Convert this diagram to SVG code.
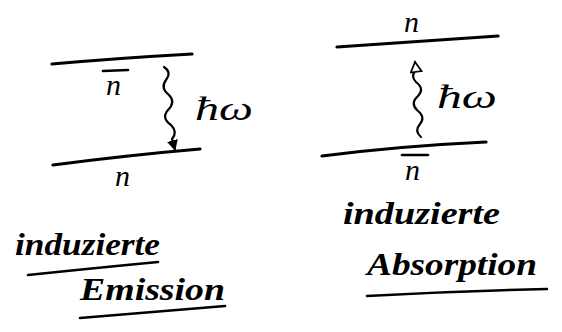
<svg xmlns="http://www.w3.org/2000/svg" width="562" height="332" viewBox="0 0 562 332">
<defs>
<style>
.lvl{fill:none;stroke:#000;stroke-width:3.2;stroke-linecap:round}
.ul{fill:none;stroke:#000;stroke-width:2.6;stroke-linecap:round}
.wave{fill:none;stroke:#000;stroke-width:2.2;stroke-linecap:round;stroke-linejoin:round}
.t{font-family:"Liberation Serif","DejaVu Serif",serif;font-style:italic;fill:#000}
.big{font-size:30px}
.hw{font-size:34px}
.lab{font-size:32px;font-weight:bold}
</style>
<marker id="ah" viewBox="0 0 10 10" refX="9" refY="5" markerWidth="5" markerHeight="5" orient="auto-start-reverse" markerUnits="strokeWidth">
<path d="M0,0 L10,5 L0,10 z" fill="#000"/>
</marker>
<marker id="ao" viewBox="0 0 12 12" refX="10" refY="6" markerWidth="6" markerHeight="6" orient="auto" markerUnits="strokeWidth">
<path d="M1,1 L10,6 L1,11 z" fill="#fff" stroke="#000" stroke-width="1.6"/>
</marker>
</defs>
<rect width="562" height="332" fill="#fff"/>
<g id="emission">
<path class="lvl" d="M52,64 Q120,58 192,54"/>
<path class="lvl" d="M53,165 Q130,155 200,149"/>
<text class="t big" x="106" y="95">n</text>
<path class="ul" d="M103,71 L128,70"/>
<text class="t big" x="115" y="186">n</text>
</g>
<g id="absorption">
<path class="lvl" d="M337,47 Q420,41 498,36"/>
<path class="lvl" d="M322,156 Q400,146 486,142"/>
<text class="t big" x="404" y="32">n</text>
<text class="t big" x="405" y="180">n</text>
<path class="ul" d="M402,155 L428,155"/>
</g>
<g id="connectors">
<path class="wave" marker-end="url(#ah)" d="M164,67 Q172,72 166,80 Q160,88 169,95 Q176,102 168,110 Q161,118 171,125 Q178,132 172,139 L175,150"/>
<path class="wave" marker-end="url(#ao)" d="M421,137 Q414,131 420,124 Q426,117 417,110 Q410,103 418,96 Q425,89 416,82 Q410,76 416,70 L415,62"/>
</g>
<g id="labels">
<text class="t hw" x="195" y="120" textLength="58" lengthAdjust="spacingAndGlyphs">ħω</text>
<text class="t hw" x="437" y="108" textLength="60" lengthAdjust="spacingAndGlyphs">ħω</text>
<text class="t lab" x="15" y="255" textLength="145" lengthAdjust="spacingAndGlyphs">induzierte</text>
<path class="ul" d="M28,275 Q95,268 158,262"/>
<text class="t lab" x="80" y="300" textLength="145" lengthAdjust="spacingAndGlyphs">Emission</text>
<path class="ul" d="M80,318 Q150,312 225,306"/>
<text class="t lab" x="343" y="224" textLength="157" lengthAdjust="spacingAndGlyphs">induzierte</text>
<text class="t lab" x="367" y="275" textLength="170" lengthAdjust="spacingAndGlyphs">Absorption</text>
<path class="ul" d="M367,296 Q455,291 547,289"/>
</g>
</svg>
